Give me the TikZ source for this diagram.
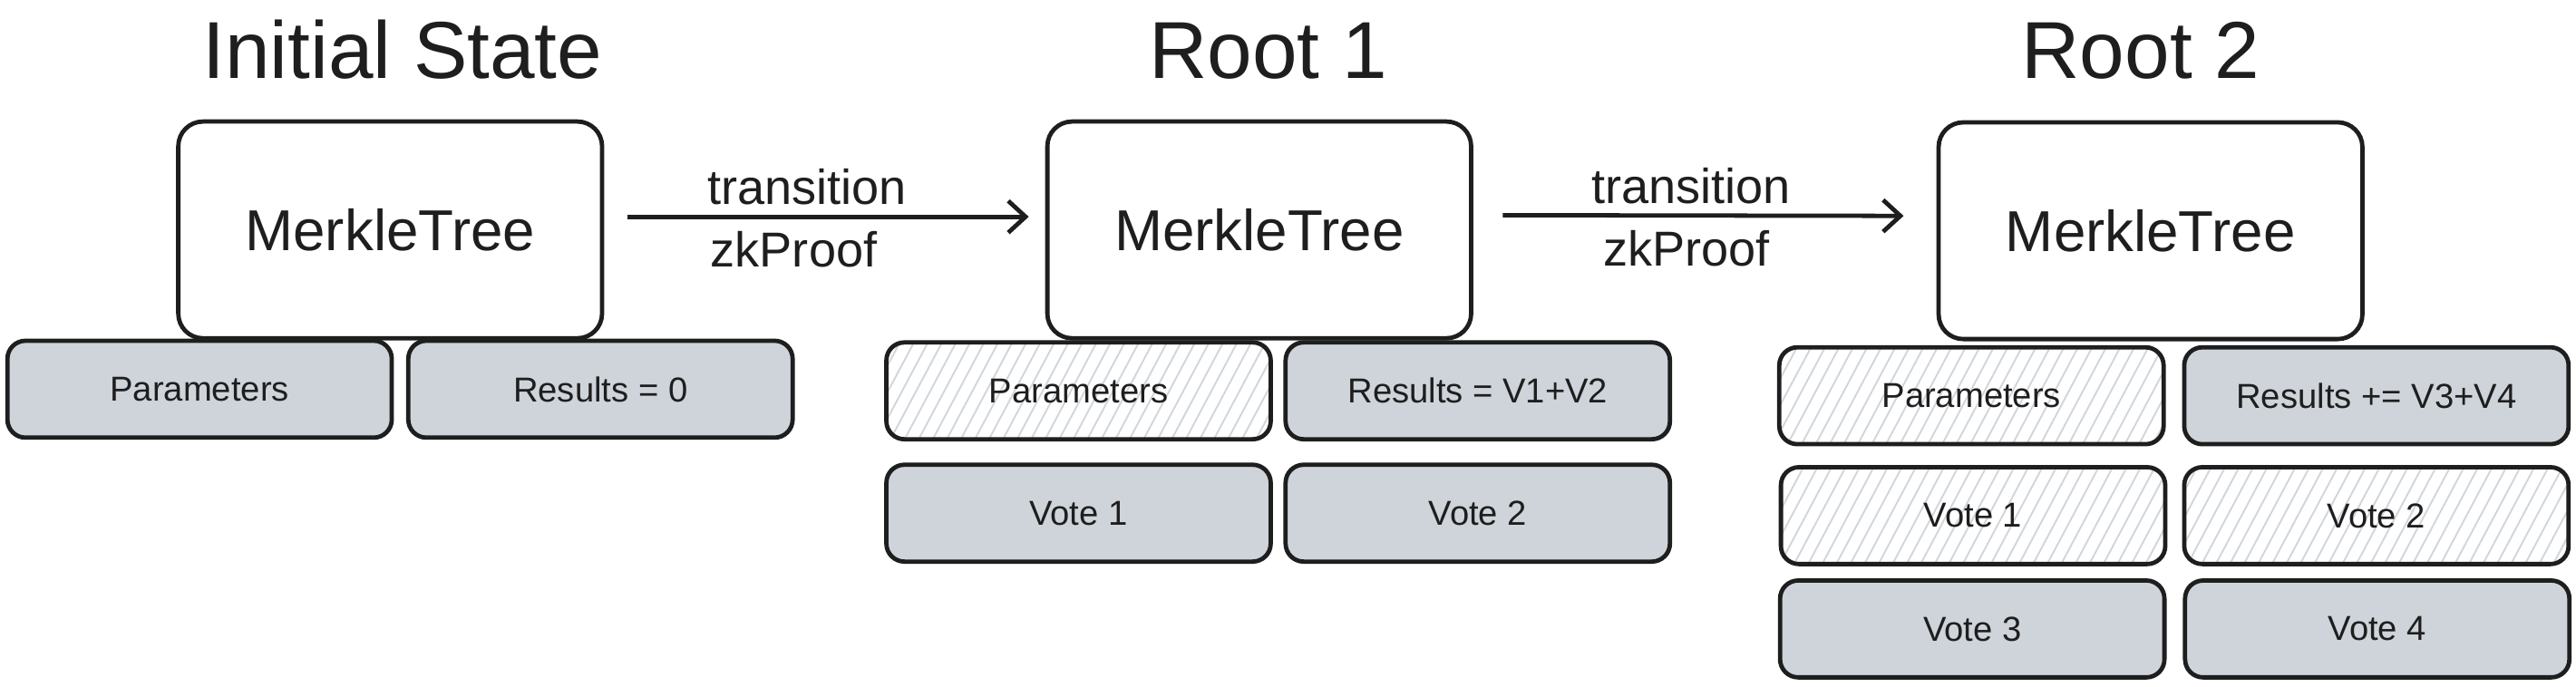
\documentclass[tikz,border=0pt]{standalone}
\usepackage{fontspec}
\setmainfont{Liberation Sans}
\usetikzlibrary{arrows.meta,patterns.meta}
\definecolor{strokegray}{HTML}{1E1E1E}
\definecolor{boxgray}{HTML}{CED4DA}
\definecolor{hatchgray}{HTML}{D0D6DC}
\begin{document}
\begin{tikzpicture}[x=0.02cm, y=-0.02cm,
  title/.style={font=\fontsize{28}{34}\selectfont, text=strokegray, anchor=base},
  tree/.style={draw=strokegray, line width=1.5pt, rounded corners=0.3cm, fill=white, minimum width=5.16cm, minimum height=2.64cm, inner sep=0pt, text=strokegray, font=\fontsize{20}{24}\selectfont},
  cell/.style={draw=strokegray, line width=1.5pt, rounded corners=0.22cm, minimum width=4.68cm, minimum height=1.18cm, inner sep=0pt, text=strokegray, font=\fontsize{12}{14}\selectfont},
  full/.style={cell, fill=boxgray},
  hatched/.style={cell, preaction={fill=white}, pattern={Lines[angle=62,distance=4.3pt,line width=0.6pt]}, pattern color=hatchgray},
  flow/.style={draw=strokegray, line width=1.5pt, -{Straight Barb[length=6pt,width=11pt]}},
  edgelabel/.style={text=strokegray, font=\fontsize{17}{20}\selectfont}]
\useasboundingbox (0,0) rectangle (1568,418);
\node[title] (title0) at (245,48) {Initial State};
\node[title] (title1) at (772,48) {Root 1};
\node[title] (title2) at (1303,48) {Root 2};
\node[full] (param0) at (121.5,237) {Parameters};
\node[full] (result0) at (365.5,237) {Results = 0};
\node[hatched] (param1) at (656.5,238) {Parameters};
\node[full] (result1) at (899.5,238) {Results = V1+V2};
\node[full] (vote11) at (656.5,312.5) {Vote 1};
\node[full] (vote12) at (899.5,312.5) {Vote 2};
\node[hatched] (param2) at (1200,241) {Parameters};
\node[full] (result2) at (1446.5,241) {Results += V3+V4};
\node[hatched] (vote21) at (1201,314) {Vote 1};
\node[hatched] (vote22) at (1446.5,314) {Vote 2};
\node[full] (vote23) at (1200.5,383) {Vote 3};
\node[full] (vote24) at (1447,383) {Vote 4};
\node[tree] (tree0) at (237.5,140) {MerkleTree};
\node[tree] (tree1) at (766.5,140) {MerkleTree};
\node[tree] (tree2) at (1309,140.5) {MerkleTree};
\draw[flow, shorten <=0.28cm, shorten >=0.2cm] ([yshift=0.16cm]tree0.east) -- ([yshift=0.16cm]tree1.west)
  node[edgelabel, pos=0.46, above=0pt] {transition}
  node[edgelabel, pos=0.43, below=1pt] {zkProof};
\draw[flow, shorten <=0.36cm, shorten >=0.4cm] ([yshift=0.18cm]tree1.east) -- ([yshift=0.18cm]tree2.west)
  node[edgelabel, pos=0.47, above=0pt] {transition}
  node[edgelabel, pos=0.46, below=1pt] {zkProof};
\end{tikzpicture}
\end{document}
